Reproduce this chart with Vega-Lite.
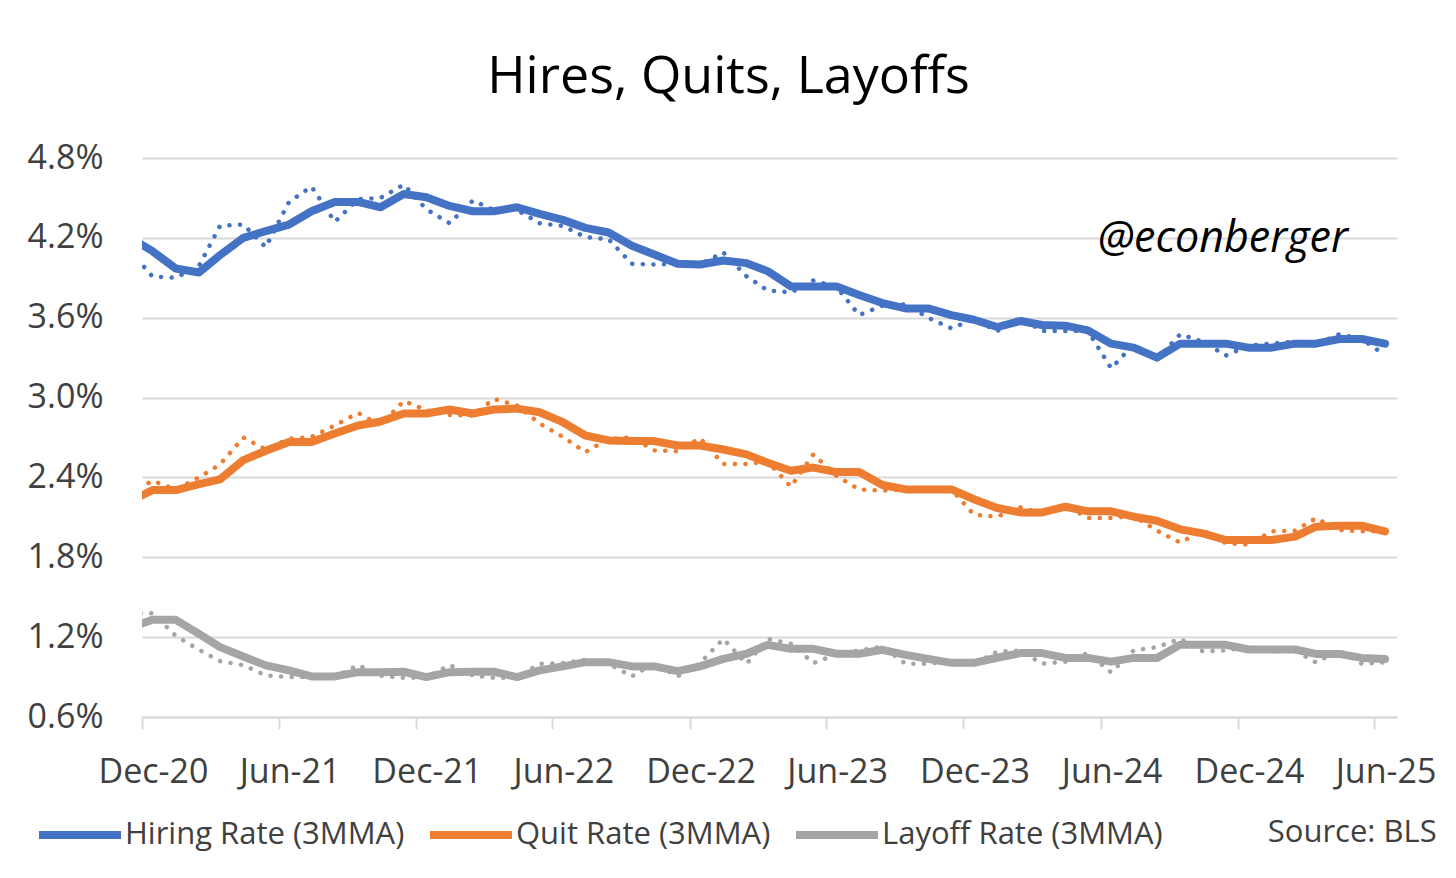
{
  "$schema": "https://vega.github.io/schema/vega-lite/v6.json",
  "description": "Hires, quits and layoffs rates, monthly (dotted) and 3-month moving average (solid).",
  "autosize": "none",
  "width": 1255,
  "height": 559,
  "padding": {"left": 142, "top": 158, "right": 59, "bottom": 161},
  "background": "#ffffff",
  "title": {
    "text": "Hires, Quits, Layoffs",
    "font": "Open Sans",
    "fontSize": 52,
    "fontWeight": "normal",
    "color": "#000000",
    "anchor": "middle",
    "frame": "group",
    "baseline": "alphabetic",
    "offset": 66,
    "dx": -41,
    "dy": 70
  },
  "config": {
    "view": {"stroke": null},
    "font": "Open Sans",
    "axis": {"labelFont": "Open Sans", "labelColor": "#404040", "title": null}
  },
  "data": {
    "values": [
      {"date": "2020-11-15", "series": "Hiring Rate", "rate": 4.10, "avg": 4.20},
      {"date": "2020-12-15", "series": "Hiring Rate", "rate": 3.91, "avg": 4.10},
      {"date": "2021-01-15", "series": "Hiring Rate", "rate": 3.90, "avg": 3.97},
      {"date": "2021-02-15", "series": "Hiring Rate", "rate": 3.99, "avg": 3.94},
      {"date": "2021-03-15", "series": "Hiring Rate", "rate": 4.29, "avg": 4.07},
      {"date": "2021-04-15", "series": "Hiring Rate", "rate": 4.30, "avg": 4.20},
      {"date": "2021-05-15", "series": "Hiring Rate", "rate": 4.13, "avg": 4.25},
      {"date": "2021-06-15", "series": "Hiring Rate", "rate": 4.47, "avg": 4.30},
      {"date": "2021-07-15", "series": "Hiring Rate", "rate": 4.585, "avg": 4.40},
      {"date": "2021-08-15", "series": "Hiring Rate", "rate": 4.32, "avg": 4.47},
      {"date": "2021-09-15", "series": "Hiring Rate", "rate": 4.49, "avg": 4.47},
      {"date": "2021-10-15", "series": "Hiring Rate", "rate": 4.50, "avg": 4.43},
      {"date": "2021-11-15", "series": "Hiring Rate", "rate": 4.60, "avg": 4.53},
      {"date": "2021-12-15", "series": "Hiring Rate", "rate": 4.415, "avg": 4.505},
      {"date": "2022-01-15", "series": "Hiring Rate", "rate": 4.31, "avg": 4.44},
      {"date": "2022-02-15", "series": "Hiring Rate", "rate": 4.48, "avg": 4.40},
      {"date": "2022-03-15", "series": "Hiring Rate", "rate": 4.41, "avg": 4.40},
      {"date": "2022-04-15", "series": "Hiring Rate", "rate": 4.41, "avg": 4.43},
      {"date": "2022-05-15", "series": "Hiring Rate", "rate": 4.31, "avg": 4.38},
      {"date": "2022-06-15", "series": "Hiring Rate", "rate": 4.29, "avg": 4.335},
      {"date": "2022-07-15", "series": "Hiring Rate", "rate": 4.205, "avg": 4.275},
      {"date": "2022-08-15", "series": "Hiring Rate", "rate": 4.19, "avg": 4.24},
      {"date": "2022-09-15", "series": "Hiring Rate", "rate": 4.005, "avg": 4.14},
      {"date": "2022-10-15", "series": "Hiring Rate", "rate": 4.00, "avg": 4.075},
      {"date": "2022-11-15", "series": "Hiring Rate", "rate": 4.005, "avg": 4.005},
      {"date": "2022-12-15", "series": "Hiring Rate", "rate": 4.00, "avg": 4.00},
      {"date": "2023-01-15", "series": "Hiring Rate", "rate": 4.09, "avg": 4.03},
      {"date": "2023-02-15", "series": "Hiring Rate", "rate": 3.91, "avg": 4.01},
      {"date": "2023-03-15", "series": "Hiring Rate", "rate": 3.805, "avg": 3.95},
      {"date": "2023-04-15", "series": "Hiring Rate", "rate": 3.79, "avg": 3.835},
      {"date": "2023-05-15", "series": "Hiring Rate", "rate": 3.88, "avg": 3.835},
      {"date": "2023-06-15", "series": "Hiring Rate", "rate": 3.83, "avg": 3.835},
      {"date": "2023-07-15", "series": "Hiring Rate", "rate": 3.62, "avg": 3.77},
      {"date": "2023-08-15", "series": "Hiring Rate", "rate": 3.69, "avg": 3.71},
      {"date": "2023-09-15", "series": "Hiring Rate", "rate": 3.70, "avg": 3.67},
      {"date": "2023-10-15", "series": "Hiring Rate", "rate": 3.60, "avg": 3.67},
      {"date": "2023-11-15", "series": "Hiring Rate", "rate": 3.52, "avg": 3.62},
      {"date": "2023-12-15", "series": "Hiring Rate", "rate": 3.59, "avg": 3.585},
      {"date": "2024-01-15", "series": "Hiring Rate", "rate": 3.50, "avg": 3.53},
      {"date": "2024-02-15", "series": "Hiring Rate", "rate": 3.60, "avg": 3.575},
      {"date": "2024-03-15", "series": "Hiring Rate", "rate": 3.50, "avg": 3.545},
      {"date": "2024-04-15", "series": "Hiring Rate", "rate": 3.50, "avg": 3.54},
      {"date": "2024-05-15", "series": "Hiring Rate", "rate": 3.50, "avg": 3.505},
      {"date": "2024-06-15", "series": "Hiring Rate", "rate": 3.22, "avg": 3.405},
      {"date": "2024-07-15", "series": "Hiring Rate", "rate": 3.40, "avg": 3.375},
      {"date": "2024-08-15", "series": "Hiring Rate", "rate": 3.29, "avg": 3.30},
      {"date": "2024-09-15", "series": "Hiring Rate", "rate": 3.476, "avg": 3.405},
      {"date": "2024-10-15", "series": "Hiring Rate", "rate": 3.42, "avg": 3.405},
      {"date": "2024-11-15", "series": "Hiring Rate", "rate": 3.316, "avg": 3.405},
      {"date": "2024-12-15", "series": "Hiring Rate", "rate": 3.39, "avg": 3.375},
      {"date": "2025-01-15", "series": "Hiring Rate", "rate": 3.405, "avg": 3.375},
      {"date": "2025-02-15", "series": "Hiring Rate", "rate": 3.42, "avg": 3.405},
      {"date": "2025-03-15", "series": "Hiring Rate", "rate": 3.40, "avg": 3.405},
      {"date": "2025-04-15", "series": "Hiring Rate", "rate": 3.476, "avg": 3.44},
      {"date": "2025-05-15", "series": "Hiring Rate", "rate": 3.44, "avg": 3.44},
      {"date": "2025-06-15", "series": "Hiring Rate", "rate": 3.32, "avg": 3.405},
      {"date": "2020-11-15", "series": "Quit Rate", "rate": 2.28, "avg": 2.22},
      {"date": "2020-12-15", "series": "Quit Rate", "rate": 2.375, "avg": 2.305},
      {"date": "2021-01-15", "series": "Quit Rate", "rate": 2.31, "avg": 2.305},
      {"date": "2021-02-15", "series": "Quit Rate", "rate": 2.40, "avg": 2.35},
      {"date": "2021-03-15", "series": "Quit Rate", "rate": 2.497, "avg": 2.385},
      {"date": "2021-04-15", "series": "Quit Rate", "rate": 2.70, "avg": 2.53},
      {"date": "2021-05-15", "series": "Quit Rate", "rate": 2.61, "avg": 2.60},
      {"date": "2021-06-15", "series": "Quit Rate", "rate": 2.69, "avg": 2.667},
      {"date": "2021-07-15", "series": "Quit Rate", "rate": 2.705, "avg": 2.667},
      {"date": "2021-08-15", "series": "Quit Rate", "rate": 2.79, "avg": 2.73},
      {"date": "2021-09-15", "series": "Quit Rate", "rate": 2.885, "avg": 2.79},
      {"date": "2021-10-15", "series": "Quit Rate", "rate": 2.79, "avg": 2.82},
      {"date": "2021-11-15", "series": "Quit Rate", "rate": 2.975, "avg": 2.88},
      {"date": "2021-12-15", "series": "Quit Rate", "rate": 2.905, "avg": 2.88},
      {"date": "2022-01-15", "series": "Quit Rate", "rate": 2.87, "avg": 2.91},
      {"date": "2022-02-15", "series": "Quit Rate", "rate": 2.865, "avg": 2.88},
      {"date": "2022-03-15", "series": "Quit Rate", "rate": 2.99, "avg": 2.91},
      {"date": "2022-04-15", "series": "Quit Rate", "rate": 2.94, "avg": 2.917},
      {"date": "2022-05-15", "series": "Quit Rate", "rate": 2.805, "avg": 2.89},
      {"date": "2022-06-15", "series": "Quit Rate", "rate": 2.705, "avg": 2.815},
      {"date": "2022-07-15", "series": "Quit Rate", "rate": 2.59, "avg": 2.715},
      {"date": "2022-08-15", "series": "Quit Rate", "rate": 2.69, "avg": 2.678},
      {"date": "2022-09-15", "series": "Quit Rate", "rate": 2.70, "avg": 2.673},
      {"date": "2022-10-15", "series": "Quit Rate", "rate": 2.603, "avg": 2.673},
      {"date": "2022-11-15", "series": "Quit Rate", "rate": 2.596, "avg": 2.64},
      {"date": "2022-12-15", "series": "Quit Rate", "rate": 2.695, "avg": 2.64},
      {"date": "2023-01-15", "series": "Quit Rate", "rate": 2.50, "avg": 2.61},
      {"date": "2023-02-15", "series": "Quit Rate", "rate": 2.50, "avg": 2.573},
      {"date": "2023-03-15", "series": "Quit Rate", "rate": 2.52, "avg": 2.51},
      {"date": "2023-04-15", "series": "Quit Rate", "rate": 2.33, "avg": 2.45},
      {"date": "2023-05-15", "series": "Quit Rate", "rate": 2.573, "avg": 2.474},
      {"date": "2023-06-15", "series": "Quit Rate", "rate": 2.41, "avg": 2.44},
      {"date": "2023-07-15", "series": "Quit Rate", "rate": 2.31, "avg": 2.44},
      {"date": "2023-08-15", "series": "Quit Rate", "rate": 2.30, "avg": 2.343},
      {"date": "2023-09-15", "series": "Quit Rate", "rate": 2.31, "avg": 2.31},
      {"date": "2023-10-15", "series": "Quit Rate", "rate": 2.31, "avg": 2.31},
      {"date": "2023-11-15", "series": "Quit Rate", "rate": 2.31, "avg": 2.31},
      {"date": "2023-12-15", "series": "Quit Rate", "rate": 2.12, "avg": 2.236},
      {"date": "2024-01-15", "series": "Quit Rate", "rate": 2.105, "avg": 2.17},
      {"date": "2024-02-15", "series": "Quit Rate", "rate": 2.175, "avg": 2.137},
      {"date": "2024-03-15", "series": "Quit Rate", "rate": 2.13, "avg": 2.137},
      {"date": "2024-04-15", "series": "Quit Rate", "rate": 2.19, "avg": 2.18},
      {"date": "2024-05-15", "series": "Quit Rate", "rate": 2.095, "avg": 2.145},
      {"date": "2024-06-15", "series": "Quit Rate", "rate": 2.095, "avg": 2.145},
      {"date": "2024-07-15", "series": "Quit Rate", "rate": 2.11, "avg": 2.105},
      {"date": "2024-08-15", "series": "Quit Rate", "rate": 2.00, "avg": 2.075},
      {"date": "2024-09-15", "series": "Quit Rate", "rate": 1.91, "avg": 2.01},
      {"date": "2024-10-15", "series": "Quit Rate", "rate": 2.00, "avg": 1.98},
      {"date": "2024-11-15", "series": "Quit Rate", "rate": 1.905, "avg": 1.93},
      {"date": "2024-12-15", "series": "Quit Rate", "rate": 1.895, "avg": 1.93},
      {"date": "2025-01-15", "series": "Quit Rate", "rate": 1.995, "avg": 1.93},
      {"date": "2025-02-15", "series": "Quit Rate", "rate": 2.00, "avg": 1.955},
      {"date": "2025-03-15", "series": "Quit Rate", "rate": 2.093, "avg": 2.03},
      {"date": "2025-04-15", "series": "Quit Rate", "rate": 2.005, "avg": 2.037},
      {"date": "2025-05-15", "series": "Quit Rate", "rate": 1.995, "avg": 2.037},
      {"date": "2025-06-15", "series": "Quit Rate", "rate": 1.995, "avg": 1.995},
      {"date": "2020-11-15", "series": "Layoff Rate", "rate": 1.38, "avg": 1.27},
      {"date": "2020-12-15", "series": "Layoff Rate", "rate": 1.38, "avg": 1.33},
      {"date": "2021-01-15", "series": "Layoff Rate", "rate": 1.21, "avg": 1.33},
      {"date": "2021-02-15", "series": "Layoff Rate", "rate": 1.105, "avg": 1.225},
      {"date": "2021-03-15", "series": "Layoff Rate", "rate": 1.02, "avg": 1.125},
      {"date": "2021-04-15", "series": "Layoff Rate", "rate": 0.99, "avg": 1.055},
      {"date": "2021-05-15", "series": "Layoff Rate", "rate": 0.912, "avg": 0.988},
      {"date": "2021-06-15", "series": "Layoff Rate", "rate": 0.90, "avg": 0.95},
      {"date": "2021-07-15", "series": "Layoff Rate", "rate": 0.90, "avg": 0.905},
      {"date": "2021-08-15", "series": "Layoff Rate", "rate": 0.90, "avg": 0.905},
      {"date": "2021-09-15", "series": "Layoff Rate", "rate": 0.99, "avg": 0.937},
      {"date": "2021-10-15", "series": "Layoff Rate", "rate": 0.91, "avg": 0.937},
      {"date": "2021-11-15", "series": "Layoff Rate", "rate": 0.895, "avg": 0.94},
      {"date": "2021-12-15", "series": "Layoff Rate", "rate": 0.895, "avg": 0.90},
      {"date": "2022-01-15", "series": "Layoff Rate", "rate": 0.99, "avg": 0.937},
      {"date": "2022-02-15", "series": "Layoff Rate", "rate": 0.912, "avg": 0.94},
      {"date": "2022-03-15", "series": "Layoff Rate", "rate": 0.895, "avg": 0.94},
      {"date": "2022-04-15", "series": "Layoff Rate", "rate": 0.895, "avg": 0.90},
      {"date": "2022-05-15", "series": "Layoff Rate", "rate": 1.00, "avg": 0.95},
      {"date": "2022-06-15", "series": "Layoff Rate", "rate": 1.005, "avg": 0.98},
      {"date": "2022-07-15", "series": "Layoff Rate", "rate": 1.03, "avg": 1.012},
      {"date": "2022-08-15", "series": "Layoff Rate", "rate": 1.00, "avg": 1.012},
      {"date": "2022-09-15", "series": "Layoff Rate", "rate": 0.905, "avg": 0.98},
      {"date": "2022-10-15", "series": "Layoff Rate", "rate": 1.005, "avg": 0.98},
      {"date": "2022-11-15", "series": "Layoff Rate", "rate": 0.905, "avg": 0.945},
      {"date": "2022-12-15", "series": "Layoff Rate", "rate": 1.005, "avg": 0.98},
      {"date": "2023-01-15", "series": "Layoff Rate", "rate": 1.187, "avg": 1.037},
      {"date": "2023-02-15", "series": "Layoff Rate", "rate": 1.00, "avg": 1.075},
      {"date": "2023-03-15", "series": "Layoff Rate", "rate": 1.187, "avg": 1.142},
      {"date": "2023-04-15", "series": "Layoff Rate", "rate": 1.15, "avg": 1.112},
      {"date": "2023-05-15", "series": "Layoff Rate", "rate": 1.005, "avg": 1.112},
      {"date": "2023-06-15", "series": "Layoff Rate", "rate": 1.07, "avg": 1.075},
      {"date": "2023-07-15", "series": "Layoff Rate", "rate": 1.10, "avg": 1.075},
      {"date": "2023-08-15", "series": "Layoff Rate", "rate": 1.13, "avg": 1.105},
      {"date": "2023-09-15", "series": "Layoff Rate", "rate": 1.00, "avg": 1.067},
      {"date": "2023-10-15", "series": "Layoff Rate", "rate": 1.00, "avg": 1.037},
      {"date": "2023-11-15", "series": "Layoff Rate", "rate": 1.02, "avg": 1.007},
      {"date": "2023-12-15", "series": "Layoff Rate", "rate": 1.00, "avg": 1.007},
      {"date": "2024-01-15", "series": "Layoff Rate", "rate": 1.09, "avg": 1.045},
      {"date": "2024-02-15", "series": "Layoff Rate", "rate": 1.10, "avg": 1.08},
      {"date": "2024-03-15", "series": "Layoff Rate", "rate": 1.00, "avg": 1.08},
      {"date": "2024-04-15", "series": "Layoff Rate", "rate": 1.016, "avg": 1.044},
      {"date": "2024-05-15", "series": "Layoff Rate", "rate": 1.08, "avg": 1.044},
      {"date": "2024-06-15", "series": "Layoff Rate", "rate": 0.935, "avg": 1.016},
      {"date": "2024-07-15", "series": "Layoff Rate", "rate": 1.10, "avg": 1.044},
      {"date": "2024-08-15", "series": "Layoff Rate", "rate": 1.125, "avg": 1.044},
      {"date": "2024-09-15", "series": "Layoff Rate", "rate": 1.187, "avg": 1.142},
      {"date": "2024-10-15", "series": "Layoff Rate", "rate": 1.094, "avg": 1.142},
      {"date": "2024-11-15", "series": "Layoff Rate", "rate": 1.10, "avg": 1.142},
      {"date": "2024-12-15", "series": "Layoff Rate", "rate": 1.127, "avg": 1.107},
      {"date": "2025-01-15", "series": "Layoff Rate", "rate": 1.094, "avg": 1.107},
      {"date": "2025-02-15", "series": "Layoff Rate", "rate": 1.10, "avg": 1.107},
      {"date": "2025-03-15", "series": "Layoff Rate", "rate": 1.01, "avg": 1.074},
      {"date": "2025-04-15", "series": "Layoff Rate", "rate": 1.10, "avg": 1.074},
      {"date": "2025-05-15", "series": "Layoff Rate", "rate": 1.00, "avg": 1.044},
      {"date": "2025-06-15", "series": "Layoff Rate", "rate": 1.01, "avg": 1.036}
    ]
  },
  "encoding": {
    "x": {
      "field": "date",
      "type": "temporal",
      "scale": {
        "type": "utc",
        "domain": [
          {"year": 2020, "month": 12, "date": 1, "utc": true},
          {"year": 2025, "month": 7, "date": 1, "utc": true}
        ]
      },
      "axis": {
        "values": [
          {"year": 2020, "month": 12, "date": 1, "utc": true},
          {"year": 2021, "month": 6, "date": 1, "utc": true},
          {"year": 2021, "month": 12, "date": 1, "utc": true},
          {"year": 2022, "month": 6, "date": 1, "utc": true},
          {"year": 2022, "month": 12, "date": 1, "utc": true},
          {"year": 2023, "month": 6, "date": 1, "utc": true},
          {"year": 2023, "month": 12, "date": 1, "utc": true},
          {"year": 2024, "month": 6, "date": 1, "utc": true},
          {"year": 2024, "month": 12, "date": 1, "utc": true},
          {"year": 2025, "month": 6, "date": 1, "utc": true}
        ],
        "format": "%b-%y",
        "grid": false,
        "domain": true,
        "domainColor": "#d9d9d9",
        "domainWidth": 2,
        "ticks": true,
        "tickColor": "#d9d9d9",
        "tickWidth": 2,
        "tickSize": 12,
        "labelFontSize": 34,
        "labelPadding": 26,
        "labelOffset": 11,
        "labelFlush": false,
        "labelOverlap": false,
        "labelBound": false
      }
    },
    "y": {
      "type": "quantitative",
      "scale": {"domain": [0.6, 4.8], "nice": false, "zero": false},
      "axis": {
        "values": [0.6, 1.2, 1.8, 2.4, 3.0, 3.6, 4.2, 4.8],
        "labelExpr": "format(datum.value, '.1f') + '%'",
        "grid": true,
        "gridColor": "#d9d9d9",
        "gridWidth": 2,
        "domain": false,
        "ticks": false,
        "labelFontSize": 34,
        "labelPadding": 39
      }
    }
  },
  "resolve": {"scale": {"color": "independent"}, "legend": {"color": "independent"}},
  "layer": [
    {
      "mark": {
        "type": "line",
        "clip": true,
        "strokeWidth": 4.5,
        "strokeDash": [0.1, 10.5],
        "strokeCap": "round"
      },
      "encoding": {
        "y": {"field": "rate", "type": "quantitative"},
        "color": {
          "field": "series",
          "type": "nominal",
          "legend": null,
          "scale": {
            "domain": ["Hiring Rate", "Quit Rate", "Layoff Rate"],
            "range": ["#4472c4", "#ed7d31", "#a5a5a5"]
          }
        }
      }
    },
    {
      "mark": {
        "type": "line",
        "clip": true,
        "strokeWidth": 8,
        "strokeCap": "round",
        "strokeJoin": "round"
      },
      "encoding": {
        "y": {"field": "avg", "type": "quantitative"},
        "color": {
          "field": "series",
          "type": "nominal",
          "scale": {
            "domain": ["Hiring Rate", "Quit Rate", "Layoff Rate"],
            "range": ["#4472c4", "#ed7d31", "#a5a5a5"]
          },
          "legend": {
            "orient": "none",
            "legendX": -107,
            "legendY": 632,
            "direction": "horizontal",
            "columns": 3,
            "columnPadding": 9,
            "padding": 0,
            "title": null,
            "symbolType": "stroke",
            "symbolSize": 6724,
            "symbolStrokeWidth": 8,
            "labelFont": "Open Sans",
            "labelFontSize": 31,
            "labelColor": "#404040",
            "labelOffset": 0,
            "labelLimit": 0,
            "labelExpr": "datum.label + ' (3MMA)'"
          }
        }
      }
    },
    {
      "data": {"values": [{"date": "2024-05-28", "value": 4.094, "note": "@econberger"}]},
      "mark": {
        "type": "text",
        "align": "left",
        "baseline": "alphabetic",
        "font": "Open Sans",
        "fontSize": 43,
        "fontStyle": "italic",
        "color": "#000000"
      },
      "encoding": {
        "y": {"field": "value", "type": "quantitative"},
        "text": {"field": "note"}
      }
    },
    {
      "data": {"values": [{"date": "2025-08-23", "value": -0.271, "note": "Source: BLS"}]},
      "mark": {
        "type": "text",
        "align": "right",
        "baseline": "middle",
        "font": "Open Sans",
        "fontSize": 31,
        "color": "#404040"
      },
      "encoding": {
        "y": {"field": "value", "type": "quantitative"},
        "text": {"field": "note"}
      }
    }
  ]
}
